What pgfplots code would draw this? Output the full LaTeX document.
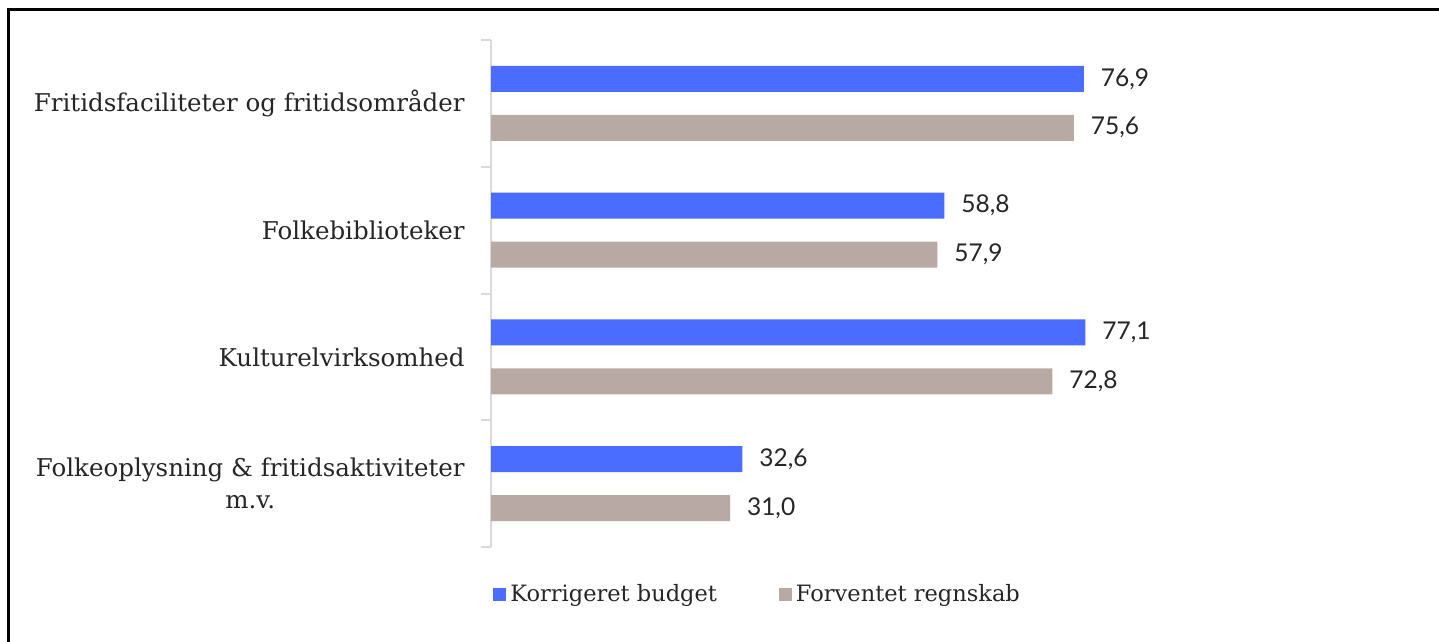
\documentclass[border=0pt]{standalone}
\usepackage{fontspec}
\setmainfont{DejaVu Serif}
\newfontfamily\lato{Lato}
\usepackage{pgfplots}
\pgfplotsset{compat=1.18}
\definecolor{cblue}{HTML}{4A6CFF}
\definecolor{cgray}{HTML}{B8A9A4}
\definecolor{cline}{HTML}{D9D9D9}
\definecolor{ctext}{HTML}{262626}
\begin{document}
\begin{tikzpicture}
\useasboundingbox (0,0) rectangle (719.5bp,-321bp);
\draw[black, line width=1.4bp] (4.2bp,-321bp) -- (4.2bp,-4.6bp) -- (719.5bp,-4.6bp);
\begin{axis}[
  at={(245.5bp,-20bp)}, anchor=north west,
  scale only axis, width=385.5bp, height=253.5bp,
  xmin=0, xmax=100, ymin=-0.5, ymax=3.5,
  xbar, bar width=13bp,
  axis x line=none,
  axis y line*=left,
  y axis line style={draw=cline, line width=1bp},
  ytick={0,1,2,3},
  yticklabels={{Folkeoplysning \& fritidsaktiviteter\\m.v.},Kulturelvirksomhed,Folkebiblioteker,Fritidsfaciliteter og fritidsområder},
  major tick length=0pt,
  minor ytick={-0.5,0.5,1.5,2.5,3.5},
  minor tick length=5bp,
  tick align=outside,
  minor tick style={draw=cline, line width=1bp},
  yticklabel style={inner sep=0pt, xshift=-13bp, align=center, font=\fontsize{12.3}{16}\selectfont, text=ctext},
  nodes near coords,
  nodes near coords style={font=\lato\fontsize{12.3}{14}\selectfont, text=ctext, anchor=west, xshift=5bp,
    /pgf/number format/.cd, fixed, fixed zerofill, precision=1, use comma, assume math mode=true},
  legend style={at={(rel axis cs:0,0)}, anchor=north west, yshift=-14.5bp, xshift=-2bp, draw=none, fill=none,
    legend columns=2, font=\fontsize{11.3}{15}\selectfont, text=ctext,
    /tikz/every even column/.append style={column sep=29bp}},
  legend image code/.code={\fill[#1] (0bp,-3.25bp) rectangle (6.5bp,3.25bp);},
]
\addplot[fill=cblue, draw=none, bar shift=12.25bp] coordinates {(32.6,0) (77.1,1) (58.8,2) (76.9,3)};
\addplot[fill=cgray, draw=none, bar shift=-12.25bp] coordinates {(31.0,0) (72.8,1) (57.9,2) (75.6,3)};
\legend{Korrigeret budget, Forventet regnskab}
\end{axis}
\end{tikzpicture}
\end{document}
